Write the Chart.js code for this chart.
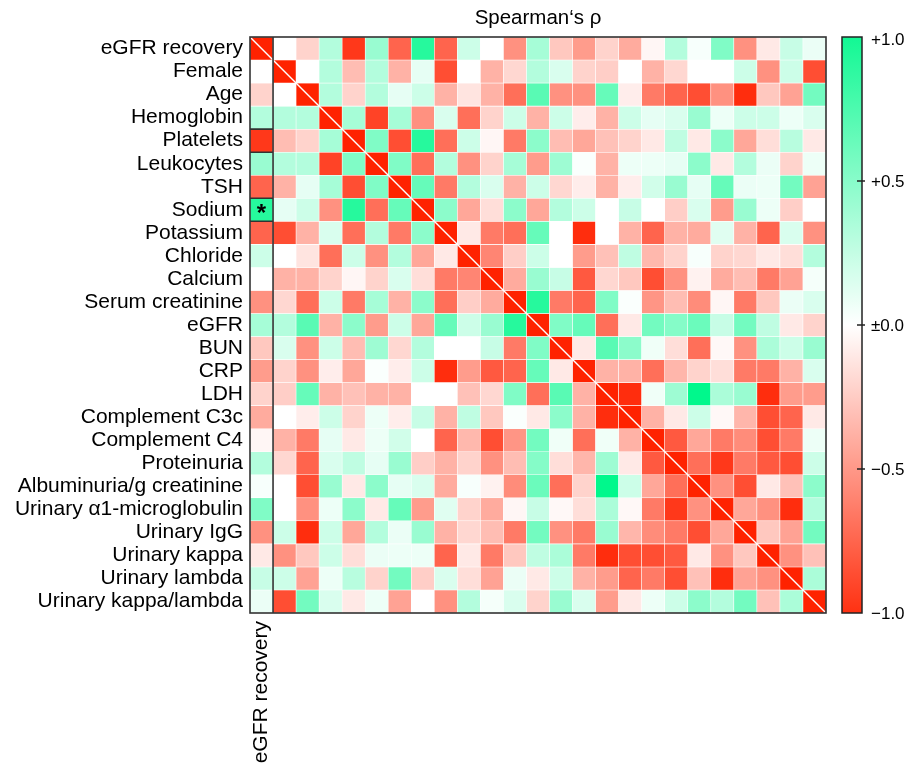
<!DOCTYPE html>
<html>
<head>
<meta charset="utf-8">
<title>Spearman's rho heatmap</title>
<script src="https://cdn.jsdelivr.net/npm/chart.js@4.4.0/dist/chart.umd.min.js"></script>
<style>
    html, body { margin: 0; padding: 0; background: #ffffff; }
    #wrap { width: 906px; height: 764px; }
</style>
</head>
<body>
<div id="wrap"><canvas id="heatmap"></canvas></div>
<script>
// ============= DATA =============
const variables = [
    'eGFR recovery', 'Female', 'Age', 'Hemoglobin', 'Platelets', 'Leukocytes', 'TSH',
    'Sodium', 'Potassium', 'Chloride', 'Calcium', 'Serum creatinine', 'eGFR', 'BUN',
    'CRP', 'LDH', 'Complement C3c', 'Complement C4', 'Proteinuria',
    'Albuminuria/g creatinine', 'Urinary \u03b11-microglobulin', 'Urinary IgG',
    'Urinary kappa', 'Urinary lambda', 'Urinary kappa/lambda'
];

// upper triangle of Spearman's rho, row r holds columns r+1 .. 24
const upperRho = [
    [0.0, -0.2, 0.3, -0.9, 0.4, -0.7, 0.85, -0.7, 0.2, 0.0, -0.5, 0.35, -0.25, -0.45, -0.2, -0.38, -0.04, 0.3, 0.03, 0.5, -0.5, -0.1, 0.22, 0.08],
    [0.0, 0.3, -0.3, 0.3, -0.35, 0.1, -0.8, 0.0, -0.35, -0.18, 0.3, 0.15, -0.2, -0.22, 0.0, -0.35, -0.18, 0.0, 0.0, 0.2, -0.5, 0.2, -0.8],
    [0.3, -0.2, 0.3, 0.1, 0.2, -0.35, -0.12, -0.35, -0.65, 0.65, -0.5, -0.5, 0.6, -0.08, -0.6, -0.7, -0.8, -0.5, -0.95, -0.25, -0.42, 0.55],
    [0.35, -0.85, 0.35, -0.5, 0.15, -0.65, -0.2, 0.2, -0.35, 0.2, -0.08, -0.35, 0.2, 0.1, 0.15, 0.4, 0.07, 0.2, 0.2, 0.07, 0.15],
    [0.5, -0.8, 0.85, -0.65, 0.2, -0.04, -0.6, 0.45, -0.3, -0.4, -0.28, -0.2, -0.1, 0.25, -0.1, 0.45, -0.4, -0.15, 0.28, -0.1],
    [0.5, -0.65, 0.3, -0.5, -0.2, 0.35, -0.45, 0.38, 0.02, -0.35, 0.07, 0.07, 0.1, 0.45, -0.1, 0.3, 0.08, -0.2, 0.07],
    [0.6, -0.6, 0.3, 0.15, -0.35, 0.2, -0.18, -0.08, -0.35, -0.08, 0.18, 0.4, 0.1, 0.6, 0.08, 0.07, 0.55, -0.42],
    [0.45, -0.4, -0.15, 0.45, -0.4, 0.3, 0.2, 0.0, 0.22, 0.0, -0.22, 0.15, -0.45, 0.4, 0.07, -0.22, 0.0],
    [-0.1, -0.6, -0.65, 0.6, 0.0, -0.95, 0.0, -0.35, -0.7, -0.35, -0.38, 0.12, -0.35, -0.7, 0.15, -0.5],
    [-0.55, -0.22, 0.2, 0.0, -0.45, -0.28, 0.25, -0.32, -0.2, 0.03, -0.2, -0.18, -0.1, -0.15, 0.3],
    [-0.38, 0.4, 0.22, -0.75, -0.18, -0.25, -0.8, -0.5, -0.06, -0.38, -0.3, -0.6, -0.42, 0.04],
    [0.85, -0.6, -0.7, 0.5, 0.02, -0.48, -0.3, -0.52, -0.04, -0.6, -0.25, 0.08, 0.15],
    [0.5, 0.6, -0.65, -0.1, 0.55, 0.48, 0.58, 0.22, 0.55, 0.25, -0.1, -0.2],
    [-0.1, 0.65, 0.45, 0.06, -0.15, -0.65, -0.03, -0.5, 0.33, 0.2, 0.4],
    [-0.35, -0.35, -0.65, -0.33, -0.2, -0.15, -0.6, -0.6, -0.35, 0.15],
    [-0.95, 0.06, 0.38, 1.0, 0.33, 0.4, -0.95, -0.45, -0.45],
    [-0.35, -0.1, 0.2, -0.03, -0.33, -0.8, -0.7, -0.1],
    [-0.75, -0.4, -0.6, -0.52, -0.8, -0.6, 0.07],
    [-0.65, -0.9, -0.6, -0.75, -0.8, 0.2],
    [-0.5, -0.8, -0.1, -0.28, 0.45],
    [-0.4, -0.5, -0.95, 0.3],
    [-0.25, -0.42, 0.55],
    [-0.5, -0.28],
    [0.33]
];

const colorbarTicks = [1, 0.5, 0, -0.5, -1];
const boxedRows = [4, 7];     // Platelets, Sodium (eGFR recovery column)
const starredRows = [7];      // Sodium

// ============= COLOURS =============
const FONT = "'Liberation Sans', Arial, sans-serif";
const LABEL_SIZE = 21;
const POS_RGB = [0, 248, 140];
const NEG_RGB = [255, 34, 0];
const DIAG_COLOR = 'rgb(255, 34, 0)';

function rhoColor(v) {
    const end = v >= 0 ? POS_RGB : NEG_RGB;
    const t = Math.min(1, Math.abs(v));
    const ch = end.map(e => Math.round(255 + (e - 255) * t));
    return `rgb(${ch[0]}, ${ch[1]}, ${ch[2]})`;
}

function rhoAt(r, c) {
    if (r === c) return null;
    return r < c ? upperRho[r][c - r - 1] : upperRho[c][r - c - 1];
}

function tickText(v) {
    if (v === 0) return '\u00b10.0';
    return (v > 0 ? '+' : '\u2212') + Math.abs(v).toFixed(1);
}

// ============= OVERLAY PLUGINS =============
const matrixOverlay = {
    id: 'matrixOverlay',
    afterDatasetsDraw(chart) {
        const { ctx, chartArea: a, scales } = chart;
        const x = scales.x, y = scales.y;
        ctx.save();

        // white diagonal through the matrix
        ctx.strokeStyle = '#ffffff';
        ctx.lineWidth = 1.5;
        ctx.beginPath();
        ctx.moveTo(a.left, a.top);
        ctx.lineTo(a.right, a.bottom);
        ctx.stroke();

        // frame + first column separator
        const sepX = (x.getPixelForValue(0) + x.getPixelForValue(1)) / 2;
        ctx.strokeStyle = '#333333';
        ctx.lineWidth = 1.6;
        ctx.strokeRect(a.left, a.top, a.right - a.left, a.bottom - a.top);
        ctx.beginPath();
        ctx.moveTo(sepX, a.top);
        ctx.lineTo(sepX, a.bottom);
        boxedRows.forEach(r => {
            [r, r + 1].forEach(edge => {
                const py = y.getPixelForValue(edge);
                ctx.moveTo(a.left, py);
                ctx.lineTo(sepX, py);
            });
        });
        ctx.stroke();

        // significance star
        ctx.fillStyle = '#000000';
        ctx.font = `bold 24px ${FONT}`;
        ctx.textAlign = 'center';
        ctx.textBaseline = 'middle';
        starredRows.forEach(r => {
            const cy = (y.getPixelForValue(r) + y.getPixelForValue(r + 1)) / 2;
            ctx.fillText('*', x.getPixelForValue(0), cy + 5);
        });
        ctx.restore();
    }
};

const colorbar = {
    id: 'colorbar',
    afterDraw(chart) {
        const { ctx, chartArea: a } = chart;
        const cb = chart.scales.cb;
        const left = a.right + 16;
        const width = 20;
        const top = cb.getPixelForValue(1);
        const bottom = cb.getPixelForValue(-1);

        ctx.save();
        const grad = ctx.createLinearGradient(0, top, 0, bottom);
        for (let i = 0; i <= 40; i++) {
            const v = 1 - i / 20;
            grad.addColorStop(i / 40, rhoColor(v * 0.93));
        }
        ctx.fillStyle = grad;
        ctx.fillRect(left, top, width, bottom - top);
        ctx.strokeStyle = '#222222';
        ctx.lineWidth = 1.5;
        ctx.strokeRect(left, top, width, bottom - top);

        ctx.beginPath();
        colorbarTicks.filter(v => Math.abs(v) < 1).forEach(v => {
            const py = cb.getPixelForValue(v);
            ctx.moveTo(left + width - 5, py);
            ctx.lineTo(left + width + 3, py);
        });
        ctx.stroke();

        ctx.fillStyle = '#000000';
        ctx.font = `17px ${FONT}`;
        ctx.textAlign = 'left';
        ctx.textBaseline = 'middle';
        colorbarTicks.forEach(v => {
            const py = cb.getPixelForValue(v) + (v === 1 ? 3 : 1);
            ctx.fillText(tickText(v), left + width + 9, py);
        });
        ctx.restore();
    }
};

// ============= BUILD CHART =============
const datasets = variables.map((name, r) => ({
    label: name,
    data: variables.map(() => 1),
    backgroundColor: variables.map((_, c) => r === c ? DIAG_COLOR : rhoColor(rhoAt(r, c))),
    borderColor: 'rgba(255, 255, 255, 0.8)',
    borderWidth: 0.6,
    borderSkipped: false,
    barPercentage: 1,
    categoryPercentage: 1,
    stack: 'rows',
    xAxisID: 'x',
    yAxisID: 'y'
}));

Chart.defaults.font.family = FONT;
Chart.defaults.color = '#000000';

new Chart(document.getElementById('heatmap'), {
    type: 'bar',
    data: { labels: variables, datasets: datasets },
    options: {
        responsive: true,
        maintainAspectRatio: false,
        animation: false,
        devicePixelRatio: 1,
        layout: { padding: { top: 0, left: 0, bottom: 0, right: 80 } },
        plugins: {
            legend: { display: false },
            tooltip: { enabled: false },
            title: {
                display: true,
                text: 'Spearman\u2018s \u03c1',
                fullSize: false,
                color: '#000000',
                font: { size: 20.5, weight: 'normal', lineHeight: 1.2 },
                padding: { top: 6, bottom: 6.4 }
            }
        },
        scales: {
            x: {
                stacked: true,
                offset: true,
                grid: { display: false, drawTicks: false },
                border: { display: false },
                ticks: {
                    autoSkip: false,
                    minRotation: 90,
                    maxRotation: 90,
                    padding: 8,
                    font: { size: LABEL_SIZE },
                    callback: (val, i) => i === 0 ? variables[0] : ''
                },
                afterFit: s => { s.height = 151; }
            },
            y: {
                type: 'linear',
                stacked: true,
                display: false,
                min: 0,
                max: variables.length,
                reverse: true
            },
            yl: {
                type: 'category',
                position: 'left',
                labels: variables,
                offset: true,
                grid: { display: false, drawTicks: false },
                border: { display: false },
                ticks: { autoSkip: false, padding: 7, font: { size: LABEL_SIZE } },
                afterFit: s => { s.width = 250; }
            },
            cb: {
                type: 'linear',
                position: 'right',
                display: false,
                min: -1,
                max: 1
            }
        }
    },
    plugins: [matrixOverlay, colorbar]
});
</script>
</body>
</html>
